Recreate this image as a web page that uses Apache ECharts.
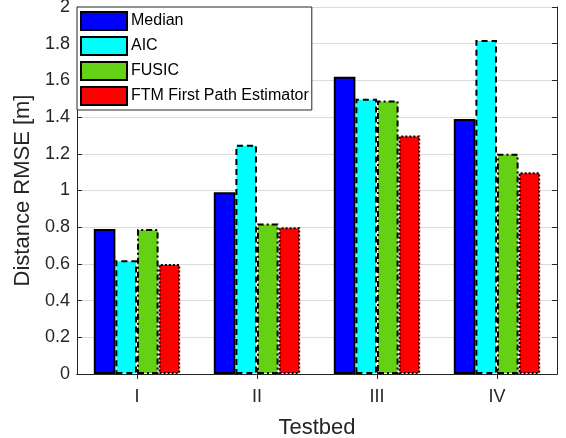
<!DOCTYPE html>
<html>
<head>
<meta charset="utf-8">
<script src="https://cdn.jsdelivr.net/npm/echarts@6/dist/echarts.min.js"></script>
<style>
  html, body { margin: 0; padding: 0; background: #fff; }
  #chart { width: 566px; height: 438px; }
</style>
</head>
<body>
<div id="chart"></div>
<script>
// Testbed categories and RMSE per estimator
const testbeds = ['I', 'II', 'III', 'IV'];
const medianRmse = [0.79, 0.99, 1.62, 1.39];
const aicRmse = [0.62, 1.25, 1.50, 1.82];
const fusicRmse = [0.79, 0.82, 1.49, 1.20];
const ftmRmse = [0.60, 0.80, 1.30, 1.10];
const seriesNames = ['Median', 'AIC', 'FUSIC', 'FTM First Path Estimator'];

const FONT = '"Liberation Sans", Arial, Helvetica, sans-serif';
const TXT = '#262626';

function barSeries(name, values, color, borderType) {
  return {
    name: name,
    type: 'bar',
    data: values,
    barWidth: '18%',
    barGap: '0%',
    xAxisIndex: 0,
    yAxisIndex: 0,
    itemStyle: {
      color: color,
      borderColor: '#000',
      borderWidth: 2,
      borderType: borderType
    },
    emphasis: { disabled: true }
  };
}

const chart = echarts.init(document.getElementById('chart'), null, { renderer: 'canvas' });

chart.setOption({
  animation: false,
  backgroundColor: '#fff',
  textStyle: { fontFamily: FONT, color: TXT },
  grid: { left: 77, right: 9, top: 7, bottom: 64, containLabel: false, outerBoundsMode: 'none' },
  legend: {
    orient: 'vertical',
    left: 77,
    top: 7,
    padding: [4, 3, 4, 3],
    itemWidth: 46,
    itemHeight: 18,
    itemGap: 5,
    backgroundColor: '#fff',
    borderColor: '#262626',
    borderWidth: 1,
    icon: 'rect',
    textStyle: { fontFamily: FONT, fontSize: 16, color: '#000', padding: [0, 0, 0, -1] },
    data: seriesNames
  },
  xAxis: [
    {
      type: 'category',
      data: testbeds,
      position: 'bottom',
      name: 'Testbed',
      nameLocation: 'middle',
      nameGap: 43,
      nameTextStyle: { fontFamily: FONT, fontSize: 22, color: TXT },
      axisLine: { show: true, lineStyle: { color: TXT, width: 1 } },
      axisTick: { show: true, inside: true, alignWithLabel: true, length: 5, lineStyle: { color: TXT } },
      axisLabel: { fontFamily: FONT, fontSize: 18, color: TXT, margin: 14 },
      splitLine: { show: false }
    },
    {
      type: 'category',
      data: testbeds,
      position: 'top',
      axisLine: { show: true, lineStyle: { color: TXT, width: 1 } },
      axisTick: { show: true, inside: true, alignWithLabel: true, length: 5, lineStyle: { color: TXT } },
      axisLabel: { show: false },
      splitLine: { show: false }
    }
  ],
  yAxis: [
    {
      type: 'value',
      min: 0,
      max: 2,
      interval: 0.2,
      position: 'left',
      name: 'Distance RMSE [m]',
      nameLocation: 'middle',
      nameGap: 40,
      nameTextStyle: { fontFamily: FONT, fontSize: 22, color: TXT },
      axisLine: { show: true, lineStyle: { color: TXT, width: 1 } },
      axisTick: { show: true, inside: true, length: 5, lineStyle: { color: TXT } },
      axisLabel: {
        fontFamily: FONT, fontSize: 18, color: TXT, margin: 7,
        formatter: function (v) { return String(Math.round(v * 10) / 10); }
      },
      splitLine: { show: true, lineStyle: { color: '#dcdcdc', width: 1 } }
    },
    {
      type: 'value',
      min: 0,
      max: 2,
      interval: 0.2,
      position: 'right',
      axisLine: { show: true, lineStyle: { color: TXT, width: 1 } },
      axisTick: { show: true, inside: true, length: 5, lineStyle: { color: TXT } },
      axisLabel: { show: false },
      splitLine: { show: false }
    }
  ],
  series: [
    barSeries(seriesNames[0], medianRmse, '#0000ff', 'solid'),
    barSeries(seriesNames[1], aicRmse, '#00ffff', [6, 4]),
    barSeries(seriesNames[2], fusicRmse, '#64d114', [6, 3, 2, 3]),
    barSeries(seriesNames[3], ftmRmse, '#ff0000', [2, 2])
  ]
});
</script>
</body>
</html>
